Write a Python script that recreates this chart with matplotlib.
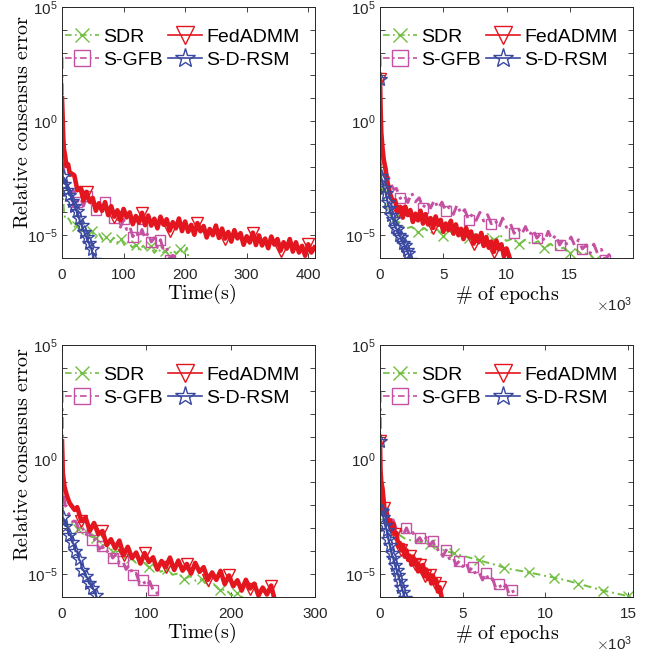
import matplotlib
matplotlib.use('Agg')
import matplotlib.pyplot as plt
import numpy as np
from matplotlib.ticker import FixedLocator, FixedFormatter, NullFormatter

plt.rcParams['font.family'] = ['Liberation Sans', 'DejaVu Sans']
plt.rcParams['mathtext.fontset'] = 'cm'

# ---------------- data (y values are log10 of the relative consensus error) ----------------
names = ['SDR', 'S-GFB', 'FedADMM', 'S-D-RSM']

# top-left: time (s)
tl_sdr_x = [0, 0.5, 1, 2, 3, 5, 8] + list(range(12, 199, 6)) + [203, 206]
tl_sdr_y = [2.5, -1.2, -2.6, -3.4, -3.9, -4.25, -4.2,
            -4.33, -4.65, -4.59, -4.86, -4.70, -4.94, -4.80, -5.12, -4.93, -5.20, -5.09,
            -5.31, -5.11, -5.32, -5.16, -5.47, -5.28, -5.54, -5.43, -5.66, -5.46, -5.66,
            -5.49, -5.78, -5.57, -5.81, -5.68, -5.88, -5.65, -5.82, -5.61, -5.82,
            -5.55, -6.2]
tl_gfb_x = [0, 0.5, 1, 2, 4, 7, 10, 14] + list(range(20, 186, 5))
tl_gfb_y = [2.8, 0.0, -1.2, -1.9, -2.4, -2.7, -2.9, -3.1,
            -3.08, -3.53, -3.37, -3.72, -3.30, -3.68, -3.47, -3.90, -3.63, -3.90, -3.53,
            -3.97, -3.77, -4.25, -4.19, -4.65, -4.31, -4.75, -4.60, -5.07, -4.83, -5.10,
            -4.75, -5.15, -4.89, -5.30, -5.12, -5.54, -5.20, -5.67, -5.55, -6.07, -5.88, -6.1]
tl_fed_x = [0, 1, 2, 3, 5, 7, 10, 13, 16] + list(range(20, 411, 5))
tl_fed_y = [1.0, 0.2, -0.7, -1.2, -1.5, -1.95, -1.9, -2.35, -2.3,
            -2.38, -3.03, -2.93, -3.48, -3.10, -3.53, -3.37, -3.93, -3.60, -3.93, -3.55,
            -4.12, -3.73, -4.19, -3.91, -4.35, -3.85, -4.22, -4.00, -4.52, -4.16, -4.45,
            -4.02, -4.56, -4.14, -4.58, -4.28, -4.70, -4.19, -4.54, -4.30, -4.80, -4.43,
            -4.70, -4.27, -4.82, -4.40, -4.85, -4.55, -4.98, -4.47, -4.83, -4.60, -5.10,
            -4.73, -5.00, -4.58, -5.12, -4.71, -5.15, -4.86, -5.28, -4.78, -5.14, -4.91,
            -5.42, -5.05, -5.32, -4.89, -5.43, -5.01, -5.45, -5.15, -5.57, -5.06, -5.41,
            -5.17, -5.68, -5.31, -5.59, -5.17, -5.72, -5.31, -5.76, -5.47, -5.90, -5.40,
            -5.76, -5.54]
tl_rsm_x = [0, 0.5, 1] + list(range(2, 53, 2))
tl_rsm_y = [1.8, -1.0, -2.4, -2.5, -2.75, -2.6, -3.0, -2.9, -3.25, -3.2, -3.5, -3.45,
            -3.7, -3.85, -3.95, -4.2, -4.25, -4.5, -4.55, -4.8, -4.85, -5.0, -5.1, -5.3,
            -5.35, -5.55, -5.6, -5.85, -6.1]

# top-right: epochs (x 10^3)
tr_sdr_x = [0, 0.05, 0.1, 0.15, 0.3, 0.5, 0.8, 1.1] + list(np.round(np.arange(1.5, 16.51, 0.5), 2)) + [17.0]
tr_sdr_y = [2.5, -1.0, -2.2, -2.9, -3.4, -3.8, -4.1, -4.3,
            -4.43, -4.72, -4.63, -4.88, -4.69, -4.91, -4.74, -5.02, -4.81, -5.05, -4.93,
            -5.14, -4.93, -5.11, -4.94, -5.22, -5.01, -5.25, -5.15, -5.39, -5.20, -5.41,
            -5.26, -5.57, -5.38, -5.63, -5.55, -5.80, -5.63, -5.86, -5.76, -6.1]
tr_gfb_x = [0, 0.05, 0.1, 0.2, 0.35, 0.5, 0.7, 0.9, 1.1] + list(np.round(np.arange(1.3, 18.41, 0.3), 2)) + [18.6]
tr_gfb_y = [2.9, 0.5, -0.8, -1.4, -1.8, -2.1, -2.5, -2.8, -3.0,
            -2.95, -3.39, -3.23, -3.57, -3.14, -3.54, -3.36, -3.80, -3.54, -3.81, -3.45,
            -3.83, -3.55, -3.94, -3.75, -4.09, -3.66, -4.07, -3.88, -4.33, -4.08, -4.35,
            -4.00, -4.38, -4.10, -4.50, -4.32, -4.67, -4.25, -4.66, -4.47, -4.92, -4.68,
            -4.96, -4.62, -5.02, -4.75, -5.13, -4.93, -5.27, -4.83, -5.21, -4.99, -5.43,
            -5.16, -5.43, -5.08, -5.47, -5.20, -5.60, -5.43, -5.80, -5.39, -5.81, -5.62,
            -6.09, -5.85, -6.15, -6.3]
tr_fed_x = [0, 0.05, 0.1, 0.2, 0.3, 0.4, 0.6, 0.8, 1.0] + list(np.round(np.arange(1.2, 10.21, 0.2), 2)) + [10.3]
tr_fed_y = [1.84, 0.5, -0.5, -1.2, -1.7, -2.0, -2.7, -3.2, -3.5,
            -3.48, -4.00, -3.76, -4.23, -3.75, -4.12, -3.90, -4.42, -4.06, -4.35, -3.93,
            -4.49, -4.08, -4.53, -4.25, -4.68, -4.18, -4.55, -4.33, -4.85, -4.49, -4.78,
            -4.37, -4.93, -4.53, -5.00, -4.72, -5.17, -4.68, -5.06, -4.84, -5.37, -5.01,
            -5.31, -4.90, -5.47, -5.08, -5.55, -5.28, -5.73, -5.24, -5.61, -5.40, -5.93,
            -5.58, -5.90, -6.1]
tr_rsm_x = [0, 0.03, 0.05, 0.15, 0.3, 0.45, 0.6, 0.75, 0.9, 1.05, 1.2, 1.35, 1.5, 1.65,
            1.8, 1.95, 2.1, 2.25, 2.4]
tr_rsm_y = [1.84, -1.5, -2.4, -2.6, -2.95, -3.15, -3.55, -3.8, -4.1, -4.3, -4.65, -4.75,
            -5.0, -5.1, -5.35, -5.45, -5.65, -5.8, -6.1]

# bottom-left: time (s)
bl_sdr_x = [0, 0.5, 1, 2, 4, 8] + list(range(12, 216, 7))
bl_sdr_y = [2.5, -1.0, -2.4, -2.85, -2.75, -2.9,
            -2.75, -3.02, -3.00, -3.35, -3.42, -3.73, -3.71, -4.05, -3.99, -4.31, -4.29,
            -4.57, -4.46, -4.70, -4.61, -4.90, -4.78, -5.03, -4.97, -5.22, -5.09, -5.30,
            -5.23, -5.55, -5.44, -5.71, -5.67, -5.93, -5.82, -6.05]
bl_gfb_x = [0, 0.5, 1, 2, 4, 7, 10, 13] + list(range(16, 113, 4)) + [114]
bl_gfb_y = [3.0, 0.5, -1.0, -1.6, -2.0, -2.3, -2.5, -2.7,
            -2.69, -3.04, -2.94, -3.33, -3.10, -3.53, -3.48, -3.92, -3.79, -4.09, -3.90,
            -4.30, -4.14, -4.52, -4.42, -4.80, -4.60, -5.04, -4.97, -5.40, -5.26, -5.54,
            -5.32, -5.70, -5.69, -6.1]
bl_fed_x = [0, 1, 3, 6, 9, 12, 15] + list(range(18, 249, 5)) + [252]
bl_fed_y = [0.8, -0.6, -1.2, -1.6, -1.9, -2.05, -2.2,
            -2.08, -2.68, -2.54, -3.11, -2.77, -3.25, -3.12, -3.73, -3.48, -3.87, -3.54,
            -4.17, -3.81, -4.30, -4.06, -4.54, -4.08, -4.47, -4.27, -4.80, -4.43, -4.70,
            -4.28, -4.82, -4.41, -4.85, -4.56, -4.98, -4.51, -4.90, -4.70, -5.25, -4.93,
            -5.25, -4.86, -5.44, -5.06, -5.53, -5.27, -5.72, -5.25, -5.63, -5.42, -5.94,
            -5.59, -5.89, -5.50, -6.1]
bl_rsm_x = [0, 0.3, 0.6] + list(range(2, 43, 2))
bl_rsm_y = [0.75, -1.0, -2.5, -2.6, -2.9, -2.85, -3.3, -3.25, -3.6, -3.7, -4.0, -4.0,
            -4.35, -4.45, -4.8, -4.85, -5.1, -5.15, -5.4, -5.45, -5.6, -5.7, -5.9, -6.1]

# bottom-right: epochs (x 10^3)
br_sdr_x = [0, 0.03, 0.1] + list(np.round(np.arange(0.5, 15.01, 0.5), 2)) + [15.3]
br_sdr_y = [2.5, -1.0, -2.6, -2.9, -3.2, -3.45, -3.55, -3.6, -3.7, -3.85, -4.0, -4.1,
            -4.2, -4.3, -4.4, -4.5, -4.6, -4.72, -4.8, -4.86, -4.93, -5.0, -5.08, -5.15,
            -5.23, -5.32, -5.42, -5.52, -5.62, -5.72, -5.8, -5.88, -5.96, -6.05]
br_gfb_x = [0, 0.03, 0.06, 0.1, 0.2, 0.35, 0.57] + list(np.round(np.arange(0.8, 8.01, 0.2), 2)) + [8.2]
br_gfb_y = [3.0, 0.5, -1.0, -1.6, -2.0, -2.35, -2.6,
            -2.64, -3.05, -2.99, -3.30, -2.98, -3.31, -3.19, -3.58, -3.41, -3.65, -3.40,
            -3.74, -3.56, -3.97, -3.89, -4.23, -3.95, -4.33, -4.23, -4.60, -4.42, -4.67,
            -4.47, -4.87, -4.69, -5.04, -4.94, -5.26, -4.96, -5.32, -5.20, -5.60, -5.44,
            -5.69, -5.47, -5.85, -5.69, -6.0]
br_fed_x = [0, 0.03, 0.08, 0.15, 0.26, 0.33] + list(np.round(np.arange(0.4, 3.71, 0.1), 2)) + [3.75]
br_fed_y = [0.8, -0.5, -1.0, -1.25, -2.1, -2.3,
            -2.27, -2.76, -2.65, -3.10, -2.80, -3.24, -3.21, -3.79, -3.64, -3.97, -3.73,
            -4.24, -3.96, -4.38, -4.20, -4.59, -4.24, -4.57, -4.44, -4.88, -4.62, -4.89,
            -4.60, -5.09, -4.80, -5.21, -5.02, -5.41, -5.06, -5.39, -5.26, -5.76, -5.57,
            -5.92, -6.1]
br_rsm_x = [0, 0.02, 0.05] + list(np.round(np.arange(0.1, 1.51, 0.1), 2))
br_rsm_y = [0.8, -1.5, -2.2, -2.25, -2.5, -2.85, -3.07, -3.45, -3.75, -4.1, -4.3, -4.6,
            -4.8, -5.05, -5.3, -5.55, -5.8, -6.05]

# ---------------- styling ----------------
colors = {'SDR': '#72BF44', 'S-GFB': '#C551A2', 'FedADMM': '#E3151E', 'S-D-RSM': '#3A48A0'}
styles = {'SDR': (0, (4, 2, 1, 2)), 'S-GFB': (0, (4, 2, 1, 2)),
          'FedADMM': '-', 'S-D-RSM': '-'}
widths = {'SDR': 1.4, 'S-GFB': 2.1, 'FedADMM': 3.3, 'S-D-RSM': 1.6}
markers = {'SDR': ('x', 7), 'S-GFB': ('s', 7.5), 'FedADMM': ('v', 8), 'S-D-RSM': ('*', 10)}
leg_ms = {'SDR': 10, 'S-GFB': 11, 'FedADMM': 13, 'S-D-RSM': 15}

fig = plt.figure(figsize=(6.55, 6.56), dpi=100)
fig.patch.set_facecolor('white')

W, H = 655.0, 656.0
panels = [
    dict(px=(62, 7, 315, 258), xlim=(0, 411), xticks=[0, 100, 200, 300, 400], kind='time',
         ylab_y=0.54,
         data=[(tl_sdr_x, tl_sdr_y, (9, 4)), (tl_gfb_x, tl_gfb_y, (9, 3)),
               (tl_fed_x, tl_fed_y, (13, 9)), (tl_rsm_x, tl_rsm_y, (2, 2))]),
    dict(px=(380, 7, 633, 258), xlim=(0, 20), xticks=[0, 5, 10, 15], kind='epochs',
         data=[(tr_sdr_x, tr_sdr_y, (3, 4)), (tr_gfb_x, tr_gfb_y, (10, 6)),
               (tr_fed_x, tr_fed_y, [0, 10, 24, 40, 48]),
               (tr_rsm_x, tr_rsm_y, [0] + list(range(2, 19)))]),
    dict(px=(62, 345, 315, 597), xlim=(0, 300), xticks=[0, 100, 200, 300], kind='time',
         ylab_y=0.565,
         data=[(bl_sdr_x, bl_sdr_y, (7, 3)), (bl_gfb_x, bl_gfb_y, (10, 3)),
               (bl_fed_x, bl_fed_y, (8, 5)), (bl_rsm_x, bl_rsm_y, (2, 2))]),
    dict(px=(380, 345, 633, 597), xlim=(0, 15.3), xticks=[0, 5, 10, 15], kind='epochs',
         data=[(br_sdr_x, br_sdr_y, (8, 3)), (br_gfb_x, br_gfb_y, (11, 4)),
               (br_fed_x, br_fed_y, [0, 4, 11, 15, 20, 23, 26, 29, 32, 35, 38]),
               (br_rsm_x, br_rsm_y, [0] + list(range(2, 18)))]),
]

dark = '#262626'
for p in panels:
    l, t, r, b = p['px']
    ax = fig.add_axes([l / W, 1 - b / H, (r - l) / W, (b - t) / H])
    for name, (x, ly, every) in zip(names, p['data']):
        mk, ms = markers[name]
        ax.semilogy(x, np.power(10.0, ly), color=colors[name], ls=styles[name],
                    lw=widths[name], marker=mk, ms=ms, mfc='none', mew=1.0,
                    markevery=every, label=name)

    ax.set_xlim(*p['xlim'])
    ax.set_ylim(1e-6, 1e5)
    ax.xaxis.set_major_locator(FixedLocator(p['xticks']))
    ax.set_xticklabels([str(v) for v in p['xticks']])
    ax.yaxis.set_major_locator(FixedLocator([1e-5, 1e0, 1e5]))
    ax.yaxis.set_major_formatter(FixedFormatter([r'$\mathdefault{10^{-5}}$',
                                                 r'$\mathdefault{10^{0}}$',
                                                 r'$\mathdefault{10^{5}}$']))
    ax.yaxis.set_minor_locator(FixedLocator([10.0 ** k for k in range(-6, 5) if k not in (-5, 0)]))
    ax.yaxis.set_minor_formatter(NullFormatter())
    ax.tick_params(which='both', direction='in', top=True, right=True, length=3.5,
                   width=0.6, colors=dark, labelsize=11)
    ax.tick_params(axis='x', pad=7)
    ax.tick_params(axis='y', pad=3)
    for s in ax.spines.values():
        s.set_color(dark)
        s.set_linewidth(0.7)

    if p['kind'] == 'time':
        ax.set_xlabel(r'$\mathrm{Time(s)}$', fontsize=14.5, color='black')
        ax.xaxis.set_label_coords(0.553, -0.095)
        ax.set_ylabel(r'$\mathrm{Relative\ consensus\ error}$', fontsize=14.5, color='black')
        ax.yaxis.set_label_coords(-0.118, p['ylab_y'])
    else:
        ax.set_xlabel(r'$\mathrm{\#\ of\ epochs}$', fontsize=14.5, color='black')
        ax.xaxis.set_label_coords(0.502, -0.105)
        ax.text(0.996, -0.186, r'$\times\mathdefault{10^{3}}$', transform=ax.transAxes,
                ha='right', va='center', fontsize=11, color=dark)

    leg = ax.legend(loc='upper left', bbox_to_anchor=(0.012, 0.915), ncol=2, frameon=False,
                    fontsize=14, handlelength=1.75, handletextpad=0.2, columnspacing=0.3,
                    labelspacing=0.28, borderpad=0, borderaxespad=0)
    for name, h in zip(names, leg.legend_handles):
        h.set_linewidth(1.2)
        h.set_markersize(leg_ms[name])

fig.savefig('out.png', dpi=100, facecolor='white')
